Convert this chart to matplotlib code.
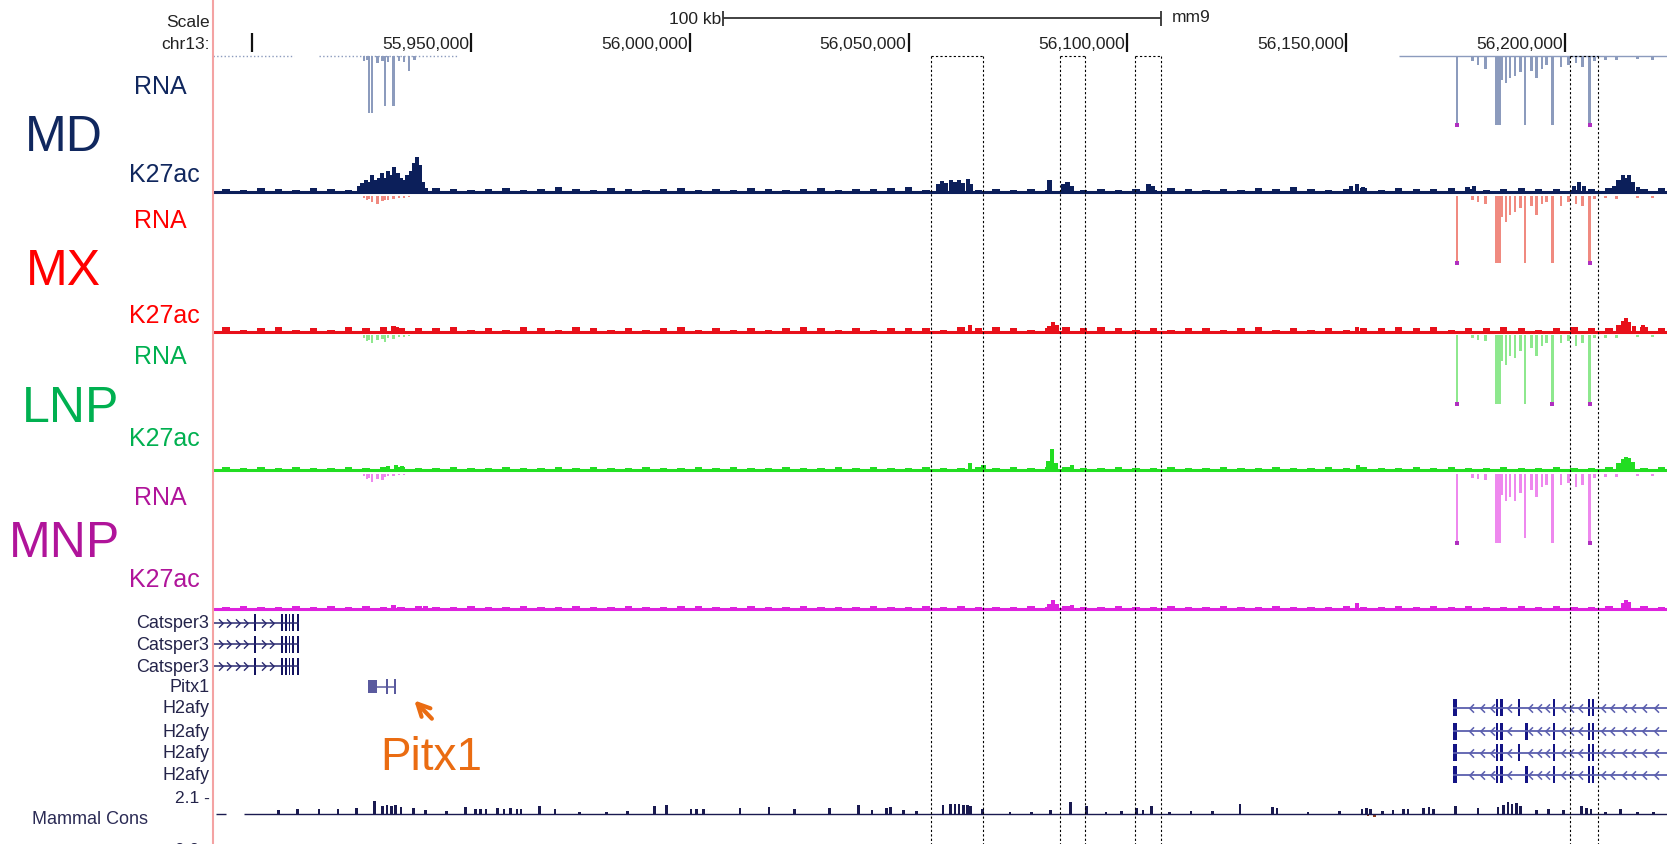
import numpy as np
import matplotlib.pyplot as plt
from matplotlib.path import Path

plt.rcParams['font.family'] = ['Liberation Sans', 'DejaVu Sans']

# Okno genomowe chr13 (mm9); wszystkie pozycje w kb liczone od 55,900,000
VIEW_KB = (-9.04, 323.3)
TICKS_KB = [0, 50, 100, 150, 200, 250, 300]
TICK_LABELS = ['', '55,950,000', '56,000,000', '56,050,000', '56,100,000', '56,150,000', '56,200,000']
SCALEBAR_KB = (107.6, 207.6)
BOXES_KB = [(155.2, 167.1), (184.6, 190.4), (201.8, 207.7), (301.2, 307.5)]

# Probki RNA (glebokosc sygnalu w dol)
RNA_DEEP_KB = [275.3, 284.3, 285.0, 290.8, 297.1, 305.6]
RNA_MID_KB = [278.9, 280.1, 281.8, 285.5, 286.5, 287.4, 288.6, 289.8, 292.3, 293.5, 294.7,
              295.7, 299.1, 300.8, 302.5, 304.0, 306.8, 309.3, 311.7, 316.6, 320.0]
PITX_RNA_KB = [25.5, 26.2, 26.7, 27.4, 28.6, 29.8, 30.3, 31.1, 32.3, 33.5, 34.7, 35.9, 37.1]

MD_RNA_DEEP = [65, 65, 65, 65, 65, 65]
MX_RNA_DEEP = [63, 63, 63, 63, 63, 63]
LNP_RNA_DEEP = [65, 65, 65, 65, 65, 65]
MNP_RNA_DEEP = [65, 65, 65, 60, 65, 65]
MD_RNA_MID = [4, 8, 12, 22, 25, 20, 18, 15, 14, 20, 12, 8, 10, 8, 6, 10, 4, 3, 3, 2, 3]
MX_RNA_MID = [4, 6, 8, 20, 25, 18, 15, 12, 10, 18, 8, 6, 10, 6, 8, 10, 3, 2, 3, 2, 2]
LNP_RNA_MID = [3, 5, 6, 25, 28, 20, 22, 15, 12, 20, 10, 8, 8, 6, 10, 8, 3, 3, 3, 2, 2]
MNP_RNA_MID = [4, 5, 6, 20, 25, 22, 25, 18, 15, 22, 12, 10, 10, 8, 12, 10, 4, 3, 3, 2, 2]
MD_RNA_PITX = [4, 3, 53, 53, 6, 4, 47, 5, 47, 4, 5, 14, 3]
MX_RNA_PITX = [2, 4, 3, 6, 8, 5, 4, 4, 3, 2, 2, 1, 0]
LNP_RNA_PITX = [3, 6, 5, 8, 5, 4, 7, 3, 4, 2, 2, 1, 0]
MNP_RNA_PITX = [2, 5, 4, 7, 5, 6, 3, 2, 2, 1, 1, 0, 0]
MD_RNA_TRACE_KB = [(-9.0, 9.5), (15.3, 46.9), (262.0, 323.3)]

# K27ac: tlo w binach po 4 kb (od -6 kb) + piki
BG_START_KB = -6.0
BG_STEP_KB = 4.0
MD_BG = [3, 2, 4, 3, 2, 4, 3, 2, 2, 2,
         2, 2, 4, 3, 2, 3, 4, 2, 3, 5,
         3, 2, 4, 3, 2, 3, 4, 2, 3, 2,
         4, 3, 2, 3, 4, 2, 3, 3, 4, 5,
         2, 2, 2, 2, 3, 2, 3, 2, 2, 2,
         3, 2, 3, 2, 4, 3, 2, 3, 2, 4,
         3, 5, 3, 2, 3, 4, 2, 4, 3, 3,
         4, 3, 2, 3, 4, 3, 3, 2, 3, 4,
         3, 3, 4]
MX_BG = [4, 2, 3, 4, 2, 3, 2, 4, 3, 4,
         3, 3, 3, 4, 2, 3, 2, 4, 3, 2,
         4, 3, 2, 3, 2, 3, 4, 2, 3, 2,
         3, 2, 3, 4, 3, 2, 3, 2, 3, 3,
         3, 2, 4, 3, 4, 3, 2, 3, 4, 3,
         4, 3, 2, 3, 2, 3, 3, 2, 3, 4,
         2, 3, 2, 3, 2, 3, 3, 4, 3, 4,
         2, 3, 3, 4, 3, 2, 3, 4, 3, 3,
         5, 4, 3]
LNP_BG = [3, 2, 3, 2, 3, 2, 2, 3, 2, 3,
          3, 2, 2, 3, 2, 2, 3, 2, 2, 3,
          2, 3, 2, 2, 3, 2, 2, 3, 2, 3,
          2, 2, 3, 2, 2, 3, 2, 3, 2, 2,
          3, 2, 2, 3, 2, 3, 2, 3, 3, 2,
          2, 3, 2, 2, 3, 2, 2, 3, 2, 2,
          3, 2, 2, 3, 2, 3, 2, 2, 3, 2,
          3, 2, 2, 3, 2, 2, 3, 2, 2, 3,
          2, 2, 3]
MNP_BG = [2, 3, 2, 2, 3, 2, 3, 2, 3, 2,
          2, 3, 2, 2, 3, 2, 2, 3, 2, 2,
          3, 2, 2, 3, 2, 2, 3, 3, 2, 2,
          3, 2, 2, 3, 2, 2, 2, 3, 2, 2,
          3, 2, 3, 2, 2, 2, 3, 2, 3, 2,
          2, 3, 2, 2, 3, 2, 2, 3, 2, 2,
          3, 2, 2, 2, 3, 2, 2, 3, 2, 3,
          2, 3, 2, 2, 3, 2, 3, 2, 2, 3,
          2, 3, 2]

MD_PEAKS_KB = [24.5, 25.2, 26.0, 26.7, 27.4, 28.2, 28.9, 29.6, 30.3, 31.1, 31.8, 32.5, 33.3,
               34.0, 34.7, 35.5, 36.2, 36.9, 37.6, 38.4, 39.1, 39.8,
               156.7, 157.7, 158.6, 159.6, 160.6, 161.5, 162.5, 163.5, 164.2,
               182.2, 185.4, 186.3, 187.3, 204.8, 205.8, 251.0, 252.4, 253.9,
               277.7, 279.2, 302.0, 303.2, 304.4,
               311.2, 312.2, 313.2, 313.9, 314.6, 315.4, 316.6]
MD_PEAKS_H = [6, 9, 12, 10, 16, 12, 14, 18, 14, 20, 16, 24, 18,
              14, 12, 16, 20, 28, 33, 26, 10, 4,
              8, 11, 9, 12, 10, 12, 9, 13, 8,
              12, 8, 10, 6, 8, 6, 6, 8, 5,
              5, 6, 6, 10, 6,
              6, 12, 16, 14, 16, 10, 5]
MX_PEAKS_KB = [32.3, 33.0, 164.0, 182.0, 182.9, 183.8, 252.5, 312.2, 313.2, 313.9, 314.6, 315.8, 317.8]
MX_PEAKS_H = [5, 4, 6, 5, 9, 6, 4, 6, 10, 13, 9, 5, 6]
LNP_PEAKS_KB = [31.1, 32.8, 34.2, 164.0, 167.1, 181.9, 182.8, 183.6, 187.3, 252.7,
                312.2, 313.2, 313.9, 314.6, 315.6]
LNP_PEAKS_H = [4, 5, 4, 6, 5, 8, 20, 6, 5, 5, 6, 10, 12, 11, 7]
MNP_PEAKS_KB = [32.3, 39.6, 182.0, 182.9, 183.8, 187.3, 252.4, 313.2, 313.9, 314.6]
MNP_PEAKS_H = [4, 3, 5, 9, 5, 4, 6, 6, 9, 7]

# Geny
CATSPER3_SPAN_KB = (-9.04, 10.6)
CATSPER3_EXONS_KB = [0.7, 6.8, 7.7, 8.5, 9.4, 10.5]
CATSPER3_CHEVRONS_KB = [-7.1, -5.2, -3.2, -1.3, 2.6, 4.6]
PITX1_SPAN_KB = (26.5, 32.8)
PITX1_UTR_KB = (26.5, 28.6)
PITX1_EXONS_KB = [30.9, 32.6]
H2AFY_SPAN_KB = (274.3, 323.3)
H2AFY_EXONS_KB = [[284.5, 285.5, 289.4, 297.4, 305.4, 306.3],
                  [284.5, 285.5, 291.2, 297.4, 305.4, 306.3],
                  [284.5, 285.5, 289.4, 297.4, 305.4, 306.3],
                  [284.5, 285.5, 291.2, 297.4, 305.4, 306.3]]
H2AFY_CHEVRONS_KB = [278.4, 281.1, 283.3, 287.2, 292.0, 294.0, 295.9, 299.6, 301.3, 303.5,
                     308.6, 310.7, 313.4, 315.6, 318.1, 320.7]

# Konserwacja (Mammal Cons, 0 - 2.1)
CONS_KB = [6.0, 10.4, 15.3, 19.6, 23.8, 27.9, 29.8, 30.8, 31.8, 32.8, 34.0, 36.9, 39.6, 44.4,
           48.8, 51.0, 52.2, 53.4, 56.1, 57.5, 59.0, 60.5, 61.4, 65.6, 69.2, 74.8, 80.9, 85.7,
           92.0, 94.7, 100.3, 101.5, 103.2, 111.5, 118.1, 123.9, 131.9, 138.5, 141.6, 145.0,
           145.8, 148.9, 151.8, 157.9, 159.6, 160.6, 161.5, 162.5, 163.5, 164.2, 166.9, 173.2,
           178.1, 182.4, 187.0, 190.7, 195.1, 198.7, 202.1, 203.6, 205.5, 209.6, 214.5, 219.4,
           225.7, 233.2, 234.2, 241.3, 248.5, 253.6, 254.6, 255.6, 258.3, 260.7, 263.1, 264.1,
           267.7, 268.9, 269.9, 275.0, 280.1, 284.7, 286.0, 287.0, 287.9, 288.9, 289.8, 293.5,
           296.2, 299.6, 303.7, 304.9, 305.9, 309.3, 312.7, 316.6, 320.2]
CONS_VAL = [0.5, 0.6, 0.7, 0.6, 0.8, 1.6, 1.0, 1.2, 1.0, 1.1, 0.9, 0.8, 0.5, 0.4,
            0.9, 0.6, 0.7, 0.6, 0.8, 0.7, 0.8, 0.6, 0.7, 1.0, 0.7, 0.3, 0.3, 0.4,
            1.0, 1.1, 0.6, 0.7, 0.6, 0.8, 0.9, 0.7, 0.8, 1.1, 0.5, 0.8,
            0.9, 0.5, 0.4, 1.2, 1.3, 1.3, 1.3, 1.2, 1.2, 1.0, 0.6, 0.3,
            0.3, 0.5, 1.5, 1.0, 0.3, 0.4, 0.8, 0.5, 1.0, 0.3, 0.4, 0.4,
            1.3, 0.9, 0.8, 0.3, 0.4, 0.7, 0.8, 0.7, 0.4, 0.5, 0.7, 0.7,
            0.8, 0.9, 0.7, 1.0, 0.8, 0.9, 1.2, 1.5, 1.3, 1.4, 1.0, 0.5,
            0.7, 0.5, 1.0, 0.8, 0.7, 0.3, 0.6, 0.3, 0.3]
CONS_NEG_KB = [100.5, 118.5, 203.0, 224.0, 255.0, 256.5]
CONS_NEG_VAL = [-0.15, -0.1, -0.15, -0.1, -0.2, -0.3]
CONS_TRACE_KB = [(-8.3, -5.9), (-1.8, 323.3)]

TRACK_NAMES = ['MD', 'MX', 'LNP', 'MNP']
LABEL_COLORS = ['#10275e', '#ff0000', '#00b050', '#b0149a']
RNA_COLORS = ['#8c9bbd', '#f08a80', '#8ee88e', '#ee88ee']
K27_COLORS = ['#0c1f5a', '#e8101a', '#22dd22', '#dd22dd']
RNA_DEEP = [MD_RNA_DEEP, MX_RNA_DEEP, LNP_RNA_DEEP, MNP_RNA_DEEP]
RNA_MID = [MD_RNA_MID, MX_RNA_MID, LNP_RNA_MID, MNP_RNA_MID]
RNA_PITX = [MD_RNA_PITX, MX_RNA_PITX, LNP_RNA_PITX, MNP_RNA_PITX]
RNA_DOTS = [[0, 5], [0, 5], [0, 4, 5], [0, 5]]
K27_BG = [MD_BG, MX_BG, LNP_BG, MNP_BG]
K27_PEAKS = [(MD_PEAKS_KB, MD_PEAKS_H), (MX_PEAKS_KB, MX_PEAKS_H),
             (LNP_PEAKS_KB, LNP_PEAKS_H), (MNP_PEAKS_KB, MNP_PEAKS_H)]

# Uklad (jednostki = piksele obrazu referencyjnego 1568x795)
W, H = 1568, 795
LEFT = 200
RNA_BASE = [54, 185, 316, 447]
K27_BASE = [182, 313, 443, 574]
RNA_LABEL_Y = [82, 208, 336, 469]
BIG_LABEL_Y = [130, 256, 385, 512]
BIG_LABEL_X = [60, 60, 66, 61]
K27_LABEL_Y = [165, 297, 413, 546]
CATSPER3_Y = [587, 607, 628]
PITX1_Y = 647
H2AFY_Y = [667, 689, 709, 730]
CONS_BASE, CONS_TOP = 767, 751

CHEV_R = Path([(-0.6, 1), (0.4, 0), (-0.6, -1)], [Path.MOVETO, Path.LINETO, Path.LINETO])
CHEV_L = Path([(0.6, 1), (-0.4, 0), (0.6, -1)], [Path.MOVETO, Path.LINETO, Path.LINETO])


def main():
    fig = plt.figure(figsize=(16.67, 8.45), dpi=100)
    lab = fig.add_axes([0, 0, 1, 1])
    lab.set_xlim(0, W)
    lab.set_ylim(H, 0)
    lab.axis('off')
    ax = fig.add_axes([LEFT / W, 0, 1 - LEFT / W, 1])
    ax.set_xlim(*VIEW_KB)
    ax.set_ylim(H, 0)
    ax.axis('off')

    txt = '#222222'
    # Skala i wspolrzedne
    lab.text(197, 21, 'Scale', ha='right', va='center', fontsize=12.5, color=txt)
    lab.text(197, 42, 'chr13:', ha='right', va='center', fontsize=12.5, color=txt)
    ax.hlines(18, *SCALEBAR_KB, color='#333333', lw=1.3)
    ax.vlines(SCALEBAR_KB, 11, 25, color='#333333', lw=1.3)
    ax.annotate('100 kb', (SCALEBAR_KB[0], 18), xytext=(-1, 0), textcoords='offset points',
                ha='right', va='center', fontsize=12.5, color=txt)
    ax.annotate('mm9', (SCALEBAR_KB[1], 16), xytext=(8, 0), textcoords='offset points',
                ha='left', va='center', fontsize=12.5, color=txt)
    ax.vlines(TICKS_KB, 32, 50, color='#111111', lw=1.6)
    for kb, lbl in zip(TICKS_KB, TICK_LABELS):
        ax.annotate(lbl, (kb, 42), xytext=(-1.5, 0), textcoords='offset points',
                    ha='right', va='center', fontsize=12.5, color=txt)

    # Sciezki RNA i K27ac
    for i in range(4):
        rb, kb0 = RNA_BASE[i], K27_BASE[i]
        rc, kc = RNA_COLORS[i], K27_COLORS[i]
        ax.bar(RNA_DEEP_KB, RNA_DEEP[i], width=0.55, bottom=rb, color=rc, lw=0)
        ax.bar(RNA_MID_KB, RNA_MID[i], width=0.6, bottom=rb, color=rc, lw=0)
        ax.bar(PITX_RNA_KB, RNA_PITX[i], width=0.55, bottom=rb, color=rc, lw=0)
        dx = [RNA_DEEP_KB[j] for j in RNA_DOTS[i]]
        dy = [rb + RNA_DEEP[i][j] for j in RNA_DOTS[i]]
        ax.plot(dx, dy, 's', ms=2.8, color='#b02fc0', mew=0)

        bg = np.array(K27_BG[i])
        xs = BG_START_KB + BG_STEP_KB * np.arange(len(bg))
        ax.hlines(kb0, *VIEW_KB, color=kc, lw=2.2)
        ax.bar(xs, -bg, width=1.7, bottom=kb0, color=kc, lw=0)
        pk, ph = K27_PEAKS[i]
        ax.bar(pk, -np.array(ph), width=0.95, bottom=kb0, color=kc, lw=0)

        lc = LABEL_COLORS[i]
        lab.text(151, RNA_LABEL_Y[i], 'RNA', ha='center', va='center', fontsize=18, color=lc)
        lab.text(BIG_LABEL_X[i], BIG_LABEL_Y[i], TRACK_NAMES[i], ha='center', va='center',
                 fontsize=36, color=lc)
        lab.text(188, K27_LABEL_Y[i], 'K27ac', ha='right', va='center', fontsize=18, color=lc)

    for j, (a, b) in enumerate(MD_RNA_TRACE_KB):
        ax.hlines(RNA_BASE[0], a, b, color=RNA_COLORS[0], lw=1.0,
                  linestyles=':' if j < 2 else '-')

    # Geny
    gtxt = '#24244a'
    cat_line, cat_exon = '#2a2a70', '#141460'
    for y in CATSPER3_Y:
        ax.hlines(y, *CATSPER3_SPAN_KB, color=cat_line, lw=1.1)
        ax.bar(CATSPER3_EXONS_KB, 16, width=0.4, bottom=y - 8, color=cat_exon, lw=0)
        ax.plot(CATSPER3_CHEVRONS_KB, [y] * len(CATSPER3_CHEVRONS_KB), ls='none',
                marker=CHEV_R, ms=6, mew=1.0, mfc='none', mec=cat_line)
        lab.text(197, y, 'Catsper3', ha='right', va='center', fontsize=13, color=gtxt)

    pitx_c = '#5a5a9e'
    ax.hlines(PITX1_Y, *PITX1_SPAN_KB, color=pitx_c, lw=1.1)
    ax.bar([(PITX1_UTR_KB[0] + PITX1_UTR_KB[1]) / 2], 12, width=PITX1_UTR_KB[1] - PITX1_UTR_KB[0],
           bottom=PITX1_Y - 6, color=pitx_c, lw=0)
    ax.bar(PITX1_EXONS_KB, 14, width=0.45, bottom=PITX1_Y - 7, color=pitx_c, lw=0)
    lab.text(197, PITX1_Y, 'Pitx1', ha='right', va='center', fontsize=13, color=gtxt)

    h_line, h_exon = '#5b5fae', '#141485'
    for y, exons in zip(H2AFY_Y, H2AFY_EXONS_KB):
        ax.hlines(y, *H2AFY_SPAN_KB, color=h_line, lw=1.3)
        ax.bar([H2AFY_SPAN_KB[0] + 0.5], 16, width=1.0, bottom=y - 8, color=h_exon, lw=0)
        ax.bar(exons, 16, width=0.5, bottom=y - 8, color=h_exon, lw=0)
        ax.plot(H2AFY_CHEVRONS_KB, [y] * len(H2AFY_CHEVRONS_KB), ls='none',
                marker=CHEV_L, ms=6, mew=1.1, mfc='none', mec=h_line)
        lab.text(197, y, 'H2afy', ha='right', va='center', fontsize=13, color=gtxt)

    # Konserwacja
    scale = (CONS_BASE - CONS_TOP) / 2.1
    for a, b in CONS_TRACE_KB:
        ax.hlines(CONS_BASE, a, b, color='#1a1a50', lw=1.0)
    ax.bar(CONS_KB, -np.array(CONS_VAL) * scale, width=0.6, bottom=CONS_BASE, color='#1a1a50', lw=0)
    ax.bar(CONS_NEG_KB, -np.array(CONS_NEG_VAL) * scale, width=0.6, bottom=CONS_BASE,
           color='#8b3a1a', lw=0)
    lab.text(197, CONS_TOP, '2.1 -', ha='right', va='center', fontsize=12.5, color=gtxt)
    lab.text(197, 800, '0.0 -', ha='right', va='center', fontsize=12.5, color=gtxt)
    lab.text(30, 771, 'Mammal Cons', ha='left', va='center', fontsize=13, color='#2b2b55')

    # Ramki przerywane i czerwona krawedz
    for a, b in BOXES_KB:
        ax.vlines([a, b], 54, H, colors='k', linestyles=(0, (2, 2)), lw=0.8)
        ax.hlines(54, a, b, colors='k', linestyles=(0, (2, 2)), lw=0.8)
    ax.axvline(VIEW_KB[0] + 0.15, color='#f4a3a3', lw=1.5, clip_on=False)

    # Adnotacja Pitx1
    orange = '#ea6c12'
    ax.annotate('', xy=(36.6, 658), xytext=(41.5, 679),
                arrowprops=dict(arrowstyle='->', color=orange, lw=3, mutation_scale=22))
    ax.text(41.0, 713, 'Pitx1', ha='center', va='center', fontsize=33, color=orange)

    fig.savefig('out.png', dpi=100)


if __name__ == '__main__':
    main()
